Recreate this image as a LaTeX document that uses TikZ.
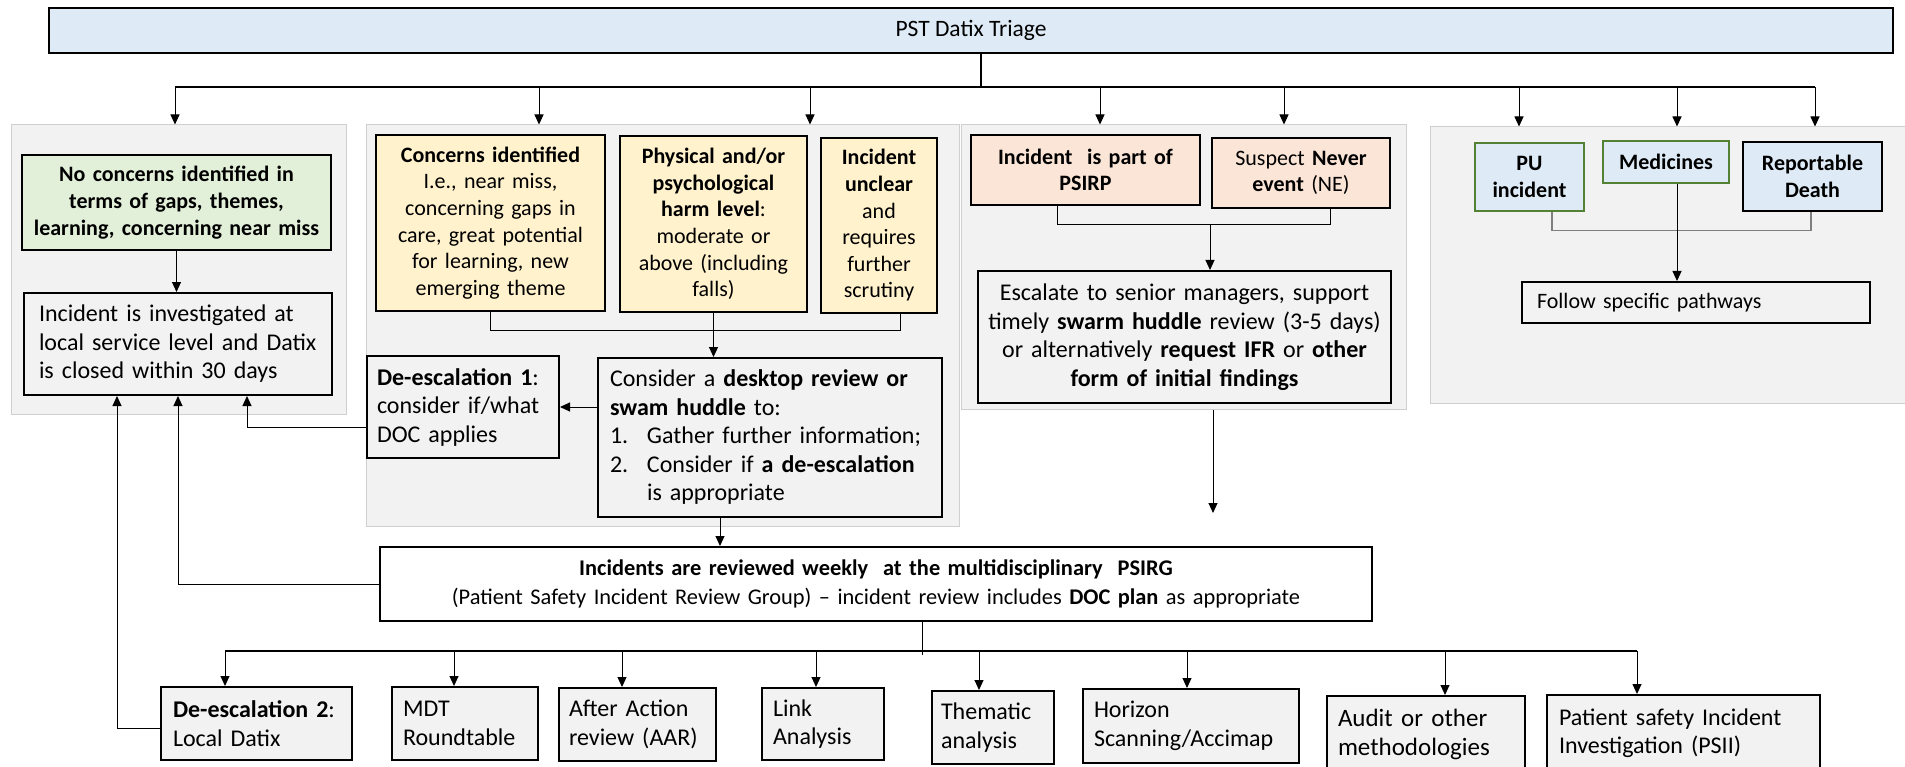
\documentclass[tikz,border=0pt]{standalone}
\usepackage{fontspec}
\setmainfont{Carlito}
\usetikzlibrary{arrows.meta}
\definecolor{topblue}{HTML}{DEEBF7}
\definecolor{panel}{HTML}{F2F2F2}
\definecolor{panelline}{HTML}{CFCFCF}
\definecolor{greenfill}{HTML}{E2F0D9}
\definecolor{yellowfill}{HTML}{FFF2CC}
\definecolor{peachfill}{HTML}{FBE5D6}
\definecolor{greenline}{HTML}{548235}
\definecolor{bracketgray}{HTML}{7F7F7F}
\begin{document}
\begin{tikzpicture}[x=1pt,y=-1pt,
  font=\fontsize{22}{27}\selectfont,
  fa/.style={font=\fontsize{22}{26.6}\selectfont},
  fb/.style={font=\fontsize{24}{28.5}\selectfont},
  base/.style={rectangle, draw=black, line width=2pt, inner xsep=14pt, inner ysep=3pt, fill=panel},
  panelbox/.style={rectangle, draw=panelline, fill=panel, line width=1pt},
  conn/.style={line width=1pt, draw=black},
  arr/.style={conn, -{Triangle[length=10pt,width=9pt]}}
]
\useasboundingbox (0,0) rectangle (1905,767);

% ---------- top ----------
\node[base, fill=topblue, minimum width=1844pt, minimum height=45pt, font=\fontsize{23.5}{28}\selectfont] (top) at (971,30.5) {PST Datix Triage};

% ---------- panels ----------
\node[panelbox, minimum width=335pt, minimum height=289pt] (lpanel) at (178.5,269.5) {};
\node[panelbox, minimum width=593pt, minimum height=401pt] (mpanel) at (662.5,325.5) {};
\node[panelbox, minimum width=445pt, minimum height=284pt] (ppanel) at (1183.5,267) {};
\node[panelbox, minimum width=480pt, minimum height=276pt] (rpanel) at (1670,265) {};

% ---------- left panel ----------
\node[base, fill=greenfill, minimum width=309pt, minimum height=95pt, text width=305pt, inner xsep=2pt, align=center, font=\fontsize{22}{27}\selectfont] (green) at (176.5,202.5)
  {\textbf{No concerns identified in}\\ \textbf{terms of gaps, themes,}\\ \textbf{learning, concerning near miss}};
\node[base, fb, minimum width=308pt, minimum height=102pt, text width=278pt, inner xsep=15pt, align=left] (local) at (178,344)
  {Incident is investigated at\\ local service level and Datix\\ is closed within 30 days};

% ---------- middle panel ----------
\node[base, fa, fill=yellowfill, minimum width=229pt, minimum height=176pt, text width=221pt, inner xsep=4pt, align=center] (concerns) at (490.5,223)
  {\textbf{Concerns identified}\\ I.e., near miss,\\ concerning gaps in\\ care, great potential\\ for learning, new\\ emerging theme};
\node[base, fa, fill=yellowfill, minimum width=187pt, minimum height=176pt, text width=179pt, inner xsep=4pt, align=center] (physical) at (713.5,224)
  {\textbf{Physical and/or}\\ \textbf{psychological}\\ \textbf{harm level}:\\ moderate or\\ above (including\\ falls)};
\node[base, fa, fill=yellowfill, minimum width=116pt, minimum height=175pt, text width=108pt, inner xsep=4pt, align=center] (unclear) at (879,225.5)
  {\textbf{Incident}\\ \textbf{unclear}\\ and\\ requires\\ further\\ scrutiny};
\node[base, fb, minimum width=192pt, minimum height=102pt, text width=172pt, inner xsep=10pt, align=left] (deesc1) at (463,407)
  {\textbf{De-escalation 1}:\\ consider if/what\\ DOC applies};
\node[base, fb, minimum width=344pt, minimum height=159pt, text width=320pt, inner xsep=12pt, align=left] (desktop) at (770,437.5)
  {Consider a \textbf{desktop review or}\\ \textbf{swam huddle} to:\\ \makebox[37pt][l]{1.}Gather further information;\\ \makebox[37pt][l]{2.}Consider if \textbf{a de-escalation}\\ \hspace*{37pt}is appropriate};

% ---------- PSIRP panel ----------
\node[base, fa, fill=peachfill, minimum width=229pt, minimum height=70pt, text width=221pt, inner xsep=4pt, align=center] (psirp) at (1085.5,170)
  {\textbf{Incident\ \ is part of}\\ \textbf{PSIRP}};
\node[base, fa, fill=peachfill, minimum width=178pt, minimum height=70pt, text width=170pt, inner xsep=4pt, align=center] (never) at (1301,173)
  {Suspect \textbf{Never}\\ \textbf{event} (NE)};
\node[base, fb, minimum width=413pt, minimum height=132pt, text width=405pt, inner xsep=4pt, align=center] (escalate) at (1184.5,337)
  {Escalate to senior managers, support\\ timely \textbf{swarm huddle} review (3-5 days)\\ or alternatively \textbf{request IFR} or \textbf{other}\\ \textbf{form of initial findings}};

% ---------- right panel ----------
\node[base, fa, fill=topblue, draw=greenline, line width=1.6pt, minimum width=109pt, minimum height=68pt, text width=103pt, inner xsep=3pt, align=center] (pu) at (1529.5,177)
  {\textbf{PU}\\ \textbf{incident}};
\node[base, fa, fill=topblue, draw=greenline, line width=1.6pt, minimum width=126pt, minimum height=42pt, text width=120pt, inner xsep=3pt, align=center] (medicines) at (1666,162)
  {\textbf{Medicines}};
\node[base, fa, fill=topblue, minimum width=139pt, minimum height=69pt, text width=133pt, inner xsep=3pt, align=center] (rd) at (1812.5,176.5)
  {\textbf{Reportable}\\ \textbf{Death}};
\node[base, minimum width=348pt, minimum height=41pt, text width=318pt, inner xsep=15pt, align=left] (follow) at (1696,302.5)
  {Follow specific pathways};

% ---------- PSIRG ----------
\node[base, fill=white, minimum width=992pt, minimum height=74pt, text width=980pt, inner xsep=6pt, align=center, font=\fontsize{22.4}{29.3}\selectfont] (psirg) at (876,584)
  {\textbf{Incidents are reviewed weekly\ \ at the multidisciplinary\ \ PSIRG}\\ (Patient Safety Incident Review Group) -- incident review includes \textbf{DOC plan} as appropriate};

% ---------- bottom boxes ----------
\node[base, fb, minimum width=191pt, minimum height=73pt, text width=167pt, inner xsep=12pt, align=left] (deesc2) at (256.5,723.5)
  {\textbf{De-escalation 2}:\\ Local Datix};
\node[base, fb, minimum width=146pt, minimum height=73pt, text width=124pt, inner xsep=11pt, align=left] (mdt) at (465,723.5)
  {MDT\\ Roundtable};
\node[base, fb, minimum width=157pt, minimum height=73pt, text width=137pt, inner xsep=10pt, align=left] (aar) at (637.5,724.5)
  {After Action\\ review (AAR)};
\node[base, fb, minimum width=122pt, minimum height=72pt, text width=100pt, inner xsep=11pt, align=left] (link) at (823,724)
  {Link\\ Analysis};
\node[base, fb, minimum width=122pt, minimum height=73pt, text width=104pt, inner xsep=9pt, align=left] (thematic) at (993,727.5)
  {Thematic\\ analysis};
\node[base, fb, minimum width=216pt, minimum height=74pt, text width=194pt, inner xsep=11pt, align=left] (horizon) at (1191,726)
  {Horizon\\ Scanning/Accimap};
\node[base, minimum width=198pt, minimum height=76pt, text width=176pt, inner xsep=11pt, align=left, font=\fontsize{25}{29}\selectfont] (audit) at (1426,734)
  {Audit or other\\ methodologies};
\node[base, fb, minimum width=273pt, minimum height=76pt, text width=249pt, inner xsep=12pt, align=left] (psii) at (1683.5,733)
  {Patient safety Incident\\ Investigation (PSII)};

% ---------- top bus ----------
\coordinate (tj) at (981,87);
\coordinate (b1) at (175,87);
\coordinate (b2) at (539,87);
\coordinate (b3) at (810,87);
\coordinate (b4) at (1100,87);
\coordinate (b5) at (1284,87);
\coordinate (b6) at (1519,87);
\coordinate (b7) at (1677,87);
\coordinate (b8) at (1815,87);
\draw[conn, line width=1.4pt] (tj |- top.south) -- (tj);
\draw[conn, line width=1.4pt] (b1) -- (b8);
\draw[arr] (b1) -- (b1 |- lpanel.north);
\draw[arr] (b2) -- (b2 |- mpanel.north);
\draw[arr] (b3) -- (b3 |- mpanel.north);
\draw[arr] (b4) -- (b4 |- ppanel.north);
\draw[arr] (b5) -- (b5 |- ppanel.north);
\draw[arr] (b6) -- (b6 |- rpanel.north);
\draw[arr] (b7) -- (b7 |- rpanel.north);
\draw[arr] (b8) -- (b8 |- rpanel.north);

% ---------- left panel connectors ----------
\draw[arr] (green.south) -- (green.south |- local.north);

% ---------- middle panel connectors ----------
\draw[conn] (concerns.south) -- ++(0,18) -| ([xshift=21pt]unclear.south);
\draw[arr] (physical.south) -- (physical.south |- desktop.north);
\draw[arr] (deesc1.east -| desktop.west) -- (deesc1.east);
\draw[arr] ([yshift=-20pt]deesc1.west) -| ([xshift=69pt]local.south);
\draw[arr] ([xshift=-50pt]desktop.south) -- ([xshift=-50pt]desktop.south |- psirg.north);
\draw[arr] (psirg.west) -| (local.south);
\draw[arr] ([yshift=-4.5pt]deesc2.west) -| ([xshift=-61pt]local.south);

% ---------- PSIRP connectors ----------
\coordinate (pb) at (1210,224);
\coordinate (escend) at (1213,513);
\draw[conn] ([xshift=-28.5pt]psirp.south) -- ++(0,19) -| ([xshift=29pt]never.south);
\draw[arr] (pb) -- (pb |- escalate.north);
\draw[arr] (escend |- ppanel.south) -- (escend);

% ---------- right panel connectors ----------
\draw[conn, draw=bracketgray, line width=1.4pt] ([xshift=22.5pt]pu.south) -- ++(0,19) -| ([xshift=-1.5pt]rd.south);
\draw[arr] ([xshift=11pt]medicines.south) -- ([xshift=11pt]medicines.south |- follow.north);

% ---------- bottom bus ----------
\coordinate (pj) at (922,651);
\coordinate (c1) at (225,651);
\coordinate (c2) at (454,651);
\coordinate (c3) at (622,651);
\coordinate (c4) at (816,651);
\coordinate (c5) at (979,651);
\coordinate (c6) at (1187,651);
\coordinate (c7) at (1445,651);
\coordinate (c8) at (1637,651);
\draw[conn] (pj |- psirg.south) -- ([yshift=-4pt]pj);
\draw[conn, line width=1.4pt] (c1) -- (c8);
\draw[arr] (c1) -- (c1 |- deesc2.north);
\draw[arr] (c2) -- (c2 |- mdt.north);
\draw[arr] (c3) -- (c3 |- aar.north);
\draw[arr] (c4) -- (c4 |- link.north);
\draw[arr] (c5) -- (c5 |- thematic.north);
\draw[arr] (c6) -- (c6 |- horizon.north);
\draw[arr] (c7) -- (c7 |- audit.north);
\draw[arr] (c8) -- (c8 |- psii.north);
\end{tikzpicture}
\end{document}
